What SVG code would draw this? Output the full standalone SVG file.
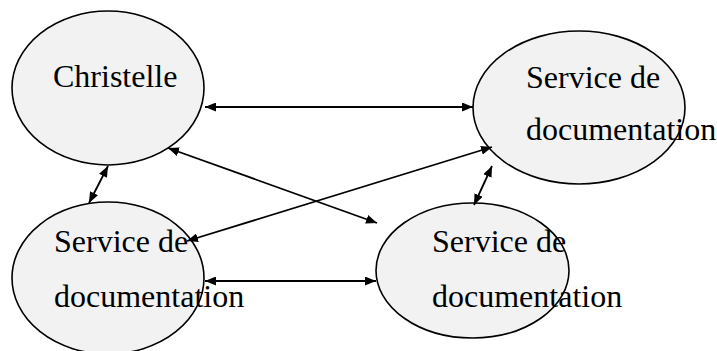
<svg xmlns="http://www.w3.org/2000/svg" width="717" height="351" viewBox="0 0 717 351">
<style>
.node{fill:#f2f2f2;stroke:#000;stroke-width:1.6}
.lbl{font-size:32px;fill:#000}
.conn{stroke:#000;stroke-width:1.8;fill:none;marker-start:url(#ah);marker-end:url(#ah)}
</style>
<defs>
<marker id="ah" viewBox="0 0 11 9" refX="11" refY="4.5" markerWidth="11" markerHeight="9" markerUnits="userSpaceOnUse" orient="auto-start-reverse">
<path d="M0,0 L11,4.5 L0,9 Z" fill="#000"/>
</marker>
</defs>
<g id="christelle">
<ellipse class="node" cx="108" cy="88" rx="96" ry="77"/>
<text class="lbl" font-family="Liberation Serif, serif" x="53" y="87">Christelle</text>
</g>
<g id="service1">
<ellipse class="node" cx="579" cy="107.5" rx="106" ry="76.5"/>
<text class="lbl" font-family="Liberation Serif, serif" x="526" y="88">Service de</text>
<text class="lbl" font-family="Liberation Serif, serif" x="526" y="140">documentation</text>
</g>
<g id="service2">
<ellipse class="node" cx="108" cy="278" rx="96" ry="76"/>
<text class="lbl" font-family="Liberation Serif, serif" x="54" y="252">Service de</text>
<text class="lbl" font-family="Liberation Serif, serif" x="54" y="307">documentation</text>
</g>
<g id="service3">
<ellipse class="node" cx="472.5" cy="270.5" rx="96.5" ry="67.5"/>
<text class="lbl" font-family="Liberation Serif, serif" x="432" y="252">Service de</text>
<text class="lbl" font-family="Liberation Serif, serif" x="432" y="307">documentation</text>
</g>
<g id="connectors">
<line class="conn" x1="205" y1="107" x2="473" y2="107"/>
<line class="conn" x1="108" y1="166" x2="89" y2="203"/>
<line class="conn" x1="168" y1="148" x2="377" y2="223"/>
<line class="conn" x1="492" y1="147" x2="187" y2="241"/>
<line class="conn" x1="492" y1="166" x2="474" y2="205"/>
<line class="conn" x1="205" y1="281" x2="376" y2="281"/>
</g>
</svg>
